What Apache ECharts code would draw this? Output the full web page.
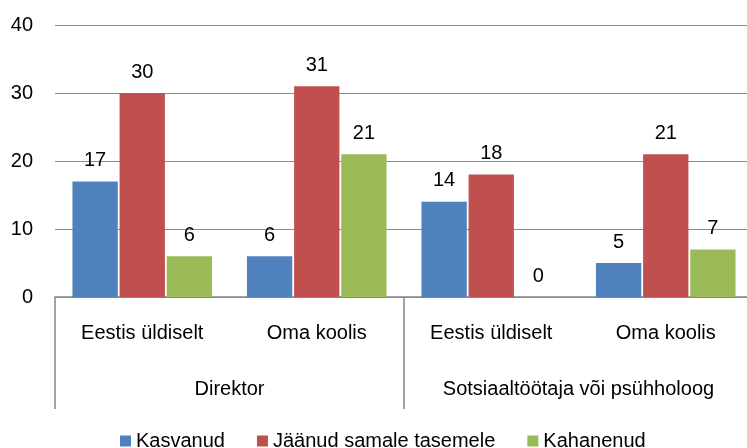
<!DOCTYPE html>
<html>
<head>
<meta charset="utf-8">
<script src="https://cdn.jsdelivr.net/npm/echarts@6/dist/echarts.min.js"></script>
<style>
  html, body { margin: 0; padding: 0; background: #fff; }
  #chart { width: 747px; height: 448px; }
</style>
</head>
<body>
<div id="chart"></div>
<script>
// andmed
var subCategories = ['Eestis üldiselt', 'Oma koolis', 'Eestis üldiselt', 'Oma koolis']
var groups = ['Direktor', 'Sotsiaaltöötaja või psühholoog']
var seriesNames = ['Kasvanud', 'Jäänud samale tasemele', 'Kahanenud']
var kasvanud = [17, 6, 14, 5]
var jaanud = [30, 31, 18, 21]
var kahanenud = [6, 21, 0, 7]
var yTicks = [0, 10, 20, 30, 40]

var colors = ['#4F81BD', '#C0504D', '#9BBB59']
var font = 'Liberation Sans'

var chart = echarts.init(document.getElementById('chart'))

function barSeries(name, data, idx) {
  return {
    name: name,
    type: 'bar',
    data: data,
    xAxisIndex: 0,
    barGap: '4%',
    barCategoryGap: '20%',
    itemStyle: { color: colors[idx] },
    label: {
      show: true,
      position: 'top',
      distance: 11,
      color: '#000',
      fontFamily: font,
      fontSize: 20
    }
  }
}

var option = {
  animation: false,
  textStyle: { fontFamily: font },
  legend: {
    data: seriesNames,
    left: 115,
    top: 426,
    icon: 'rect',
    itemWidth: 11,
    itemHeight: 11,
    itemGap: 32,
    textStyle: { color: '#000', fontSize: 20, fontFamily: font }
  },
  grid: {
    left: 55,
    top: 25,
    width: 698,
    height: 272,
    // plot runs a little past the right edge, as in the original
    outerBoundsMode: 'none'
  },
  xAxis: [
    {
      type: 'category',
      data: subCategories,
      axisLine: { show: true, lineStyle: { color: '#868686', width: 1.5 } },
      axisTick: { show: false },
      axisLabel: { interval: 0, margin: 26, color: '#000', fontSize: 20, fontFamily: font }
    },
    {
      type: 'category',
      data: groups,
      position: 'bottom',
      axisLine: { show: false },
      axisTick: { show: true, interval: 0, length: 112, lineStyle: { color: '#868686', width: 1.5 } },
      axisLabel: { interval: 0, margin: 82, color: '#000', fontSize: 20, fontFamily: font }
    }
  ],
  yAxis: {
    type: 'value',
    min: yTicks[0],
    max: yTicks[yTicks.length - 1],
    interval: 10,
    axisLine: { show: false },
    axisTick: { show: false },
    axisLabel: { margin: 22, color: '#000', fontSize: 20, fontFamily: font },
    splitLine: { lineStyle: { color: '#8c8c8c', width: 1 } }
  },
  series: [
    barSeries(seriesNames[0], kasvanud, 0),
    barSeries(seriesNames[1], jaanud, 1),
    barSeries(seriesNames[2], kahanenud, 2)
  ]
}

chart.setOption(option)
</script>
</body>
</html>
